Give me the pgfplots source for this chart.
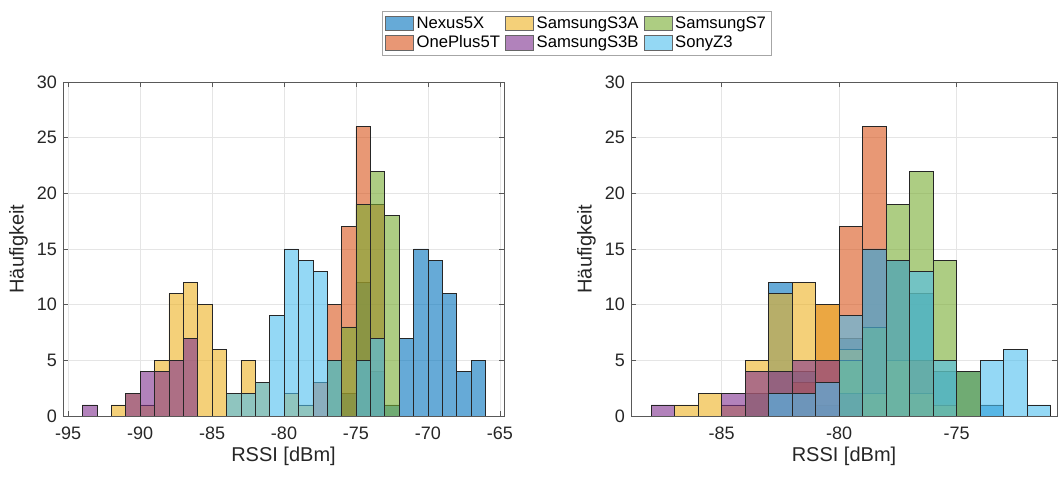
\documentclass[border=0pt]{standalone}
\usepackage{fontspec}
\setmainfont{Liberation Sans}
\usepackage{pgfplots}
\pgfplotsset{compat=1.18}
\definecolor{cNexus}{rgb}{0,0.447,0.741}
\definecolor{cOne}{rgb}{0.85,0.325,0.098}
\definecolor{cSA}{rgb}{0.929,0.694,0.125}
\definecolor{cSB}{rgb}{0.494,0.184,0.556}
\definecolor{cS7}{rgb}{0.466,0.674,0.188}
\definecolor{cSony}{rgb}{0.301,0.745,0.933}
\pgfplotsset{
  hist/.style={ybar, bar width=1, bar shift=0pt, fill=#1, fill opacity=0.6, draw=black!85, line width=0.45pt, forget plot},
  myaxis/.style={scale only axis, height=250.5pt, ymin=0, ymax=30, ytick={0,5,...,30},
    grid=major, major grid style={black!10, line width=0.4pt},
    axis line style={black!65, line width=0.5pt}, tick align=inside, major tick length=3.5pt,
    tick style={black!65, line width=0.5pt},
    ticklabel style={font=\fontsize{13.5}{16}\selectfont, text=black!85},
    xticklabel style={yshift=-5pt},
    yticklabel style={xshift=-1pt},
    label style={font=\fontsize{15}{18}\selectfont, text=black!85},
    xlabel style={yshift=2pt},
    xlabel={RSSI [dBm]}, ylabel={Häufigkeit},
    /pgf/number format/assume math mode=true},
  legimg/.style={legend image code/.code={\draw[##1] (0pt,-5.5pt) rectangle (21pt,5.5pt);}}
}
\begin{document}
\begin{tikzpicture}
\path (-47.25pt,-45.75pt) rectangle (747pt,312pt);
\begin{axis}[myaxis, at={(0,0)}, anchor=south west, width=330.75pt,
  xmin=-95.35, xmax=-64.72, xtick={-95,-90,...,-65},
  legend style={at={(1.1655,1.2126)}, anchor=north, draw=black!35, line width=0.5pt,
    font=\fontsize{12.5}{15}\selectfont, legend columns=3, legend cell align=left,
    /tikz/every even column/.append style={column sep=2pt}, inner xsep=2pt, inner ysep=2pt},
  legimg]
\addlegendimage{fill=cNexus, fill opacity=0.6, draw=black!60}
\addlegendentry{Nexus5X}
\addlegendimage{fill=cSA, fill opacity=0.6, draw=black!60}
\addlegendentry{SamsungS3A}
\addlegendimage{fill=cS7, fill opacity=0.6, draw=black!60}
\addlegendentry{SamsungS7}
\addlegendimage{fill=cOne, fill opacity=0.6, draw=black!60}
\addlegendentry{OnePlus5T}
\addlegendimage{fill=cSB, fill opacity=0.6, draw=black!60}
\addlegendentry{SamsungS3B}
\addlegendimage{fill=cSony, fill opacity=0.6, draw=black!60}
\addlegendentry{SonyZ3}
% Nexus5X
\addplot[hist=cNexus] coordinates {(-75.5,2) (-74.5,12) (-73.5,4) (-72.5,1) (-71.5,7) (-70.5,15) (-69.5,14) (-68.5,11) (-67.5,4) (-66.5,5)};
% OnePlus5T
\addplot[hist=cOne] coordinates {(-77.5,3) (-76.5,10) (-75.5,17) (-74.5,26) (-73.5,19)};
% SamsungS3A
\addplot[hist=cSA] coordinates {(-91.5,1) (-90.5,2) (-89.5,1) (-88.5,5) (-87.5,11) (-86.5,12) (-85.5,10) (-84.5,6) (-83.5,2) (-82.5,5) (-81.5,3) (-79.5,2) (-78.5,1)};
% SamsungS3B
\addplot[hist=cSB] coordinates {(-93.5,1) (-90.5,2) (-89.5,4) (-88.5,4) (-87.5,5) (-86.5,7)};
% SamsungS7
\addplot[hist=cS7] coordinates {(-76.5,5) (-75.5,8) (-74.5,19) (-73.5,22) (-72.5,18)};
% SonyZ3
\addplot[hist=cSony] coordinates {(-83.5,2) (-82.5,2) (-81.5,3) (-80.5,9) (-79.5,15) (-78.5,14) (-77.5,13) (-76.5,5) (-74.5,5) (-73.5,7)};
\end{axis}
\begin{axis}[myaxis, at={(426pt,0)}, anchor=south west, width=319.5pt,
  xmin=-88.86, xmax=-70.73, xtick={-85,-80,-75}]
% Nexus5X
\addplot[hist=cNexus] coordinates {(-83.5,2) (-82.5,12) (-81.5,4) (-80.5,1) (-79.5,7) (-78.5,15) (-77.5,14) (-76.5,11) (-75.5,4) (-74.5,4) (-73.5,1)};
% OnePlus5T
\addplot[hist=cOne] coordinates {(-81.5,3) (-80.5,10) (-79.5,17) (-78.5,26) (-77.5,14) (-76.5,5)};
% SamsungS3A
\addplot[hist=cSA] coordinates {(-86.5,1) (-85.5,2) (-84.5,1) (-83.5,5) (-82.5,11) (-81.5,12) (-80.5,10) (-79.5,6) (-78.5,2) (-77.5,5) (-76.5,2) (-75.5,1)};
% SamsungS3B
\addplot[hist=cSB] coordinates {(-87.5,1) (-84.5,2) (-83.5,4) (-82.5,4) (-81.5,5) (-80.5,5) (-79.5,2)};
% SamsungS7
\addplot[hist=cS7] coordinates {(-79.5,5) (-78.5,8) (-77.5,19) (-76.5,22) (-75.5,14) (-74.5,4)};
% SonyZ3
\addplot[hist=cSony] coordinates {(-82.5,2) (-81.5,2) (-80.5,3) (-79.5,9) (-78.5,15) (-77.5,14) (-76.5,13) (-75.5,5) (-73.5,5) (-72.5,6) (-71.5,1)};
\end{axis}
\end{tikzpicture}
\end{document}
